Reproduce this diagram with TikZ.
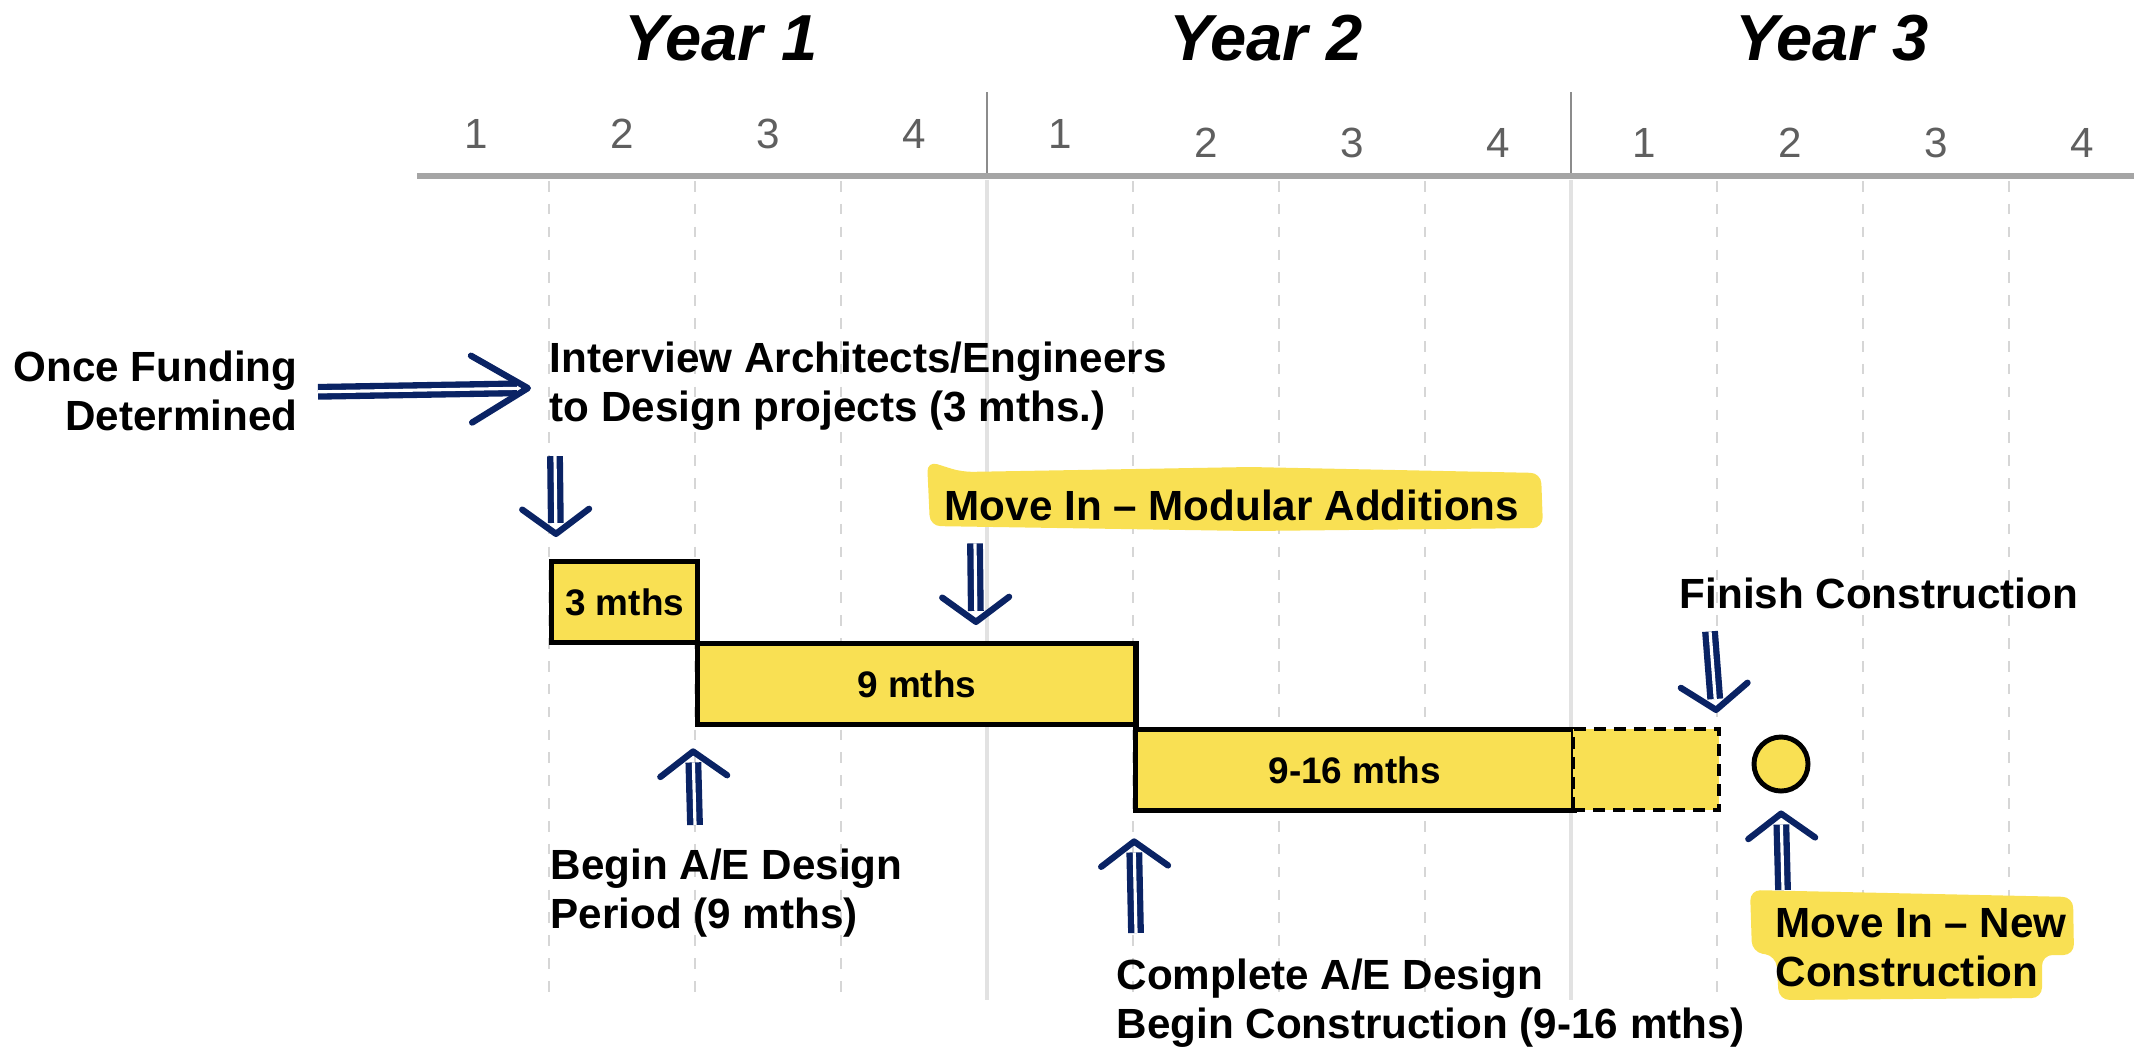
\documentclass[tikz,border=0pt]{standalone}
\usepackage{fontspec}
\setmainfont{Liberation Sans}
\usepackage{xcolor}
\usepackage{tikz}
\definecolor{navyarr}{RGB}{10,35,100}
\definecolor{jaunep}{RGB}{249,224,83}
\definecolor{axisg}{RGB}{165,165,165}
\definecolor{yeartop}{RGB}{140,140,140}
\definecolor{yearlow}{RGB}{226,226,226}
\definecolor{quartg}{RGB}{214,214,214}
\definecolor{numg}{RGB}{95,95,95}
\usetikzlibrary{calc,arrows.meta}

\tikzset{
  shaft/.style={draw=navyarr, line width=1.8pt, double=white, double distance=0.9pt, shorten >=4pt},
  barb/.style={draw=navyarr, line width=1.8pt},
  lbl/.style={inner sep=0pt, font=\fontsize{12}{14}\selectfont\bfseries},
  yearlbl/.style={inner sep=0pt, anchor=base, font=\fontsize{18.5}{20}\selectfont\bfseries\itshape},
  qnum/.style={inner sep=0pt, text=numg, font=\fontsize{12}{14}\selectfont},
  bar/.style={draw=black, line width=1.5pt, fill=jaunep, inner sep=0pt, anchor=north west,
    minimum height=0.81cm, font=\fontsize{10.5}{12}\selectfont\bfseries},
  hilite/.style={fill=jaunep, rounded corners=3pt}
}

\newcommand\handarrow[3][7pt]{%
  \draw[shaft] (#2) -- (#3);
  \draw[barb, -{Straight Barb[length=#1, width=19pt, round]}] ($(#3)!2pt!(#2)$) -- (#3);}

\begin{document}
\begin{tikzpicture}[x=0.01cm, y=-0.01cm]
        \useasboundingbox (0,0) rectangle (2134,1051);
        % time grid
        \foreach \q in {1,2,3,5,6,7,9,10,11}
          \draw[quartg, line width=0.8pt, dash pattern=on 3pt off 3.5pt] ({403+146*\q},181) -- ({403+146*\q},1000);
        \foreach \q in {4,8} {
          \draw[yeartop, line width=0.7pt] ({403+146*\q},92) -- ({403+146*\q},174);
          \draw[yearlow, line width=1.2pt] ({403+146*\q},180) -- ({403+146*\q},1000);
        }
        \draw[axisg, line width=1.6pt] (417,176) -- (2134,176);
        \foreach \q/\n/\yy in {1/1/134, 2/2/134, 3/3/134, 4/4/134, 5/1/134, 6/2/143,
                               7/3/143, 8/4/143, 9/1/143, 10/2/143, 11/3/143, 12/4/143}
          \node[qnum] (q\q) at ({403+146*\q-73},\yy) {\n};
        \node[yearlbl] (yr1) at (721,60) {Year 1};
        \node[yearlbl] (yr2) at (1266,60) {Year 2};
        \node[yearlbl] (yr3) at (1832,60) {Year 3};

        % highlights
        \fill[hilite] (927,461) -- (962,472) -- (1250,467) -- (1541,473) -- (1543,528)
          -- (1250,531) -- (930,526) -- cycle;
        \fill[hilite] (1750,890) -- (2073,897) -- (2074,955) -- (2042,955) -- (2042,998)
          -- (1779,1000) -- (1776,956) -- (1752,952) -- cycle;

        % bars
        \node[bar, minimum width=1.46cm] (bar1) at (549,559) {3 mths};
        \node[bar, minimum width=4.38cm] (bar2) at (695,641) {9 mths};
        \node[bar, minimum width=4.38cm] (bar3) at (1133,727) {9-16 mths};
        \node[bar, minimum width=1.46cm, dash pattern=on 3.4pt off 2.3pt, line width=1.2pt] (ext) at (1571,727) {};
        \node[circle, draw=black, line width=1.4pt, fill=jaunep, minimum size=0.54cm, inner sep=0pt] (circ) at (1781,764) {};

        % labels
        \node[lbl, anchor=north east, align=right] (fund) at (298,350) {Once Funding\\Determined};
        \node[lbl, anchor=north west, align=left] (iview) at (549,341) {Interview Architects/Engineers\\to Design projects (3 mths.)};
        \node[lbl, anchor=north west] (modular) at (944,489) {Move In – Modular Additions};
        \node[lbl, anchor=north west] (finish) at (1679,577) {Finish Construction};
        \node[lbl, anchor=north west, align=left] (beginae) at (550,848) {Begin A/E Design\\Period (9 mths)};
        \node[lbl, anchor=north west, align=left] (complete) at (1116,958) {Complete A/E Design\\Begin Construction (9-16 mths)};
        \node[lbl, anchor=north west, align=left] (newcon) at (1775,908) {Move In – New\\Construction};

        % arrows
        \coordinate (fund-out) at ([shift={(20,1)}]fund.east);
        \coordinate (iview-in) at ([shift={(-18,2)}]iview.west);
        \coordinate (iview-out) at ([shift={(6,25)}]iview.south west);
        \coordinate (bar1-in) at ([shift={(7,-22)}]bar1.north west);
        \coordinate (modular-out) at ([shift={(31,22)}]modular.south west);
        \coordinate (bar2-top) at ([shift={(281,-16)}]bar2.north west);
        \coordinate (beginae-out) at ([shift={(145,-23)}]beginae.north west);
        \coordinate (bar2-bot) at ([shift={(-2,21)}]bar2.south west);
        \coordinate (complete-out) at ([shift={(20,-25)}]complete.north west);
        \coordinate (bar3-in) at ([shift={(1,25)}]bar3.south west);
        \coordinate (finish-out) at ([shift={(31,22)}]finish.south west);
        \coordinate (ext-in) at ([shift={(-5,-14)}]ext.north east);
        \coordinate (newcon-out) at ([shift={(8,-18)}]newcon.north west);
        \coordinate (circ-in) at ([shift={(0,17)}]circ.south);
        \handarrow[16pt]{fund-out}{iview-in}
        \handarrow{iview-out}{bar1-in}
        \handarrow{modular-out}{bar2-top}
        \handarrow{beginae-out}{bar2-bot}
        \handarrow{complete-out}{bar3-in}
        \handarrow{finish-out}{ext-in}
        \handarrow{newcon-out}{circ-in}
      \end{tikzpicture}
\end{document}
